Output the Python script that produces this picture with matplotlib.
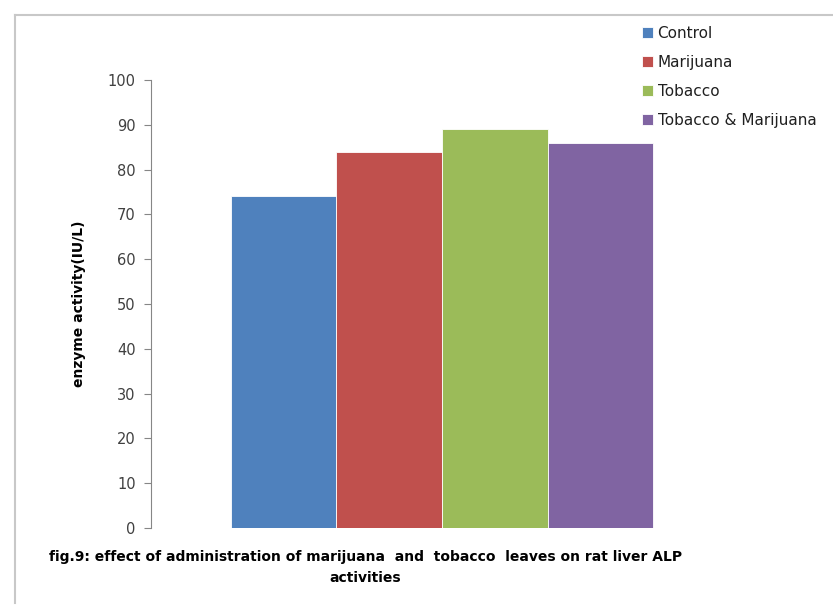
import matplotlib
matplotlib.use('Agg')
import matplotlib.pyplot as plt
from matplotlib.lines import Line2D


groups = ['Control', 'Marijuana', 'Tobacco', 'Tobacco & Marijuana']
alp_activity = [74, 84, 89, 86]
bar_colors = ['#4F81BD', '#C0504D', '#9BBB59', '#8064A2']
y_ticks = [0, 10, 20, 30, 40, 50, 60, 70, 80, 90, 100]

CAPTION_1 = 'fig.9: effect of administration of marijuana  and  tobacco  leaves on rat liver ALP'
CAPTION_2 = 'activities'

plt.rcParams['font.family'] = ['DejaVu Sans']


def main():
    fig = plt.figure(figsize=(8.33, 6.09), dpi=100)
    ax = fig.add_axes([0.1813, 0.133, 0.6987, 0.7356])

    n = len(groups)
    for i, (label, val, col) in enumerate(zip(groups, alp_activity, bar_colors)):
        ax.bar(i - (n - 1) / 2, val, width=1.0, color=col, label=label,
               edgecolor='white', linewidth=0.6)

    ax.set_xlim(-n / 2 - 0.755, n / 2 + 0.755)
    ax.set_ylim(0, 100)
    ax.set_yticks(y_ticks)
    ax.set_xticks([])
    for s in ['top', 'right', 'bottom']:
        ax.spines[s].set_visible(False)
    ax.spines['left'].set_color('#868686')
    ax.tick_params(axis='y', direction='out', length=5, color='#868686',
                   labelsize=10.5, labelcolor='#404040', pad=6)

    ax.set_ylabel('enzyme activity(IU/L)', fontsize=10, fontweight='bold',
                  labelpad=16)

    ax.legend(loc='upper left', bbox_to_anchor=(0.8436, 1.12), frameon=False,
              fontsize=11, handlelength=0.72, handleheight=0.72,
              handletextpad=0.3, labelspacing=0.9, borderaxespad=0,
              borderpad=0, labelcolor='#202020')

    fig.text(0.439, 0.0854, CAPTION_1, ha='center', va='center', fontsize=10,
             fontweight='bold')
    fig.text(0.439, 0.051, CAPTION_2, ha='center', va='center', fontsize=10,
             fontweight='bold')

    # chart frame edges
    fig.add_artist(Line2D([15 / 833, 1], [1 - 15 / 609, 1 - 15 / 609],
                          color='#C8C8C8', lw=1.5, transform=fig.transFigure))
    fig.add_artist(Line2D([15 / 833, 15 / 833], [1 - 15 / 609, 0.01],
                          color='#C8C8C8', lw=1.5, transform=fig.transFigure))

    fig.savefig('out.png', dpi=100)


if __name__ == '__main__':
    main()
